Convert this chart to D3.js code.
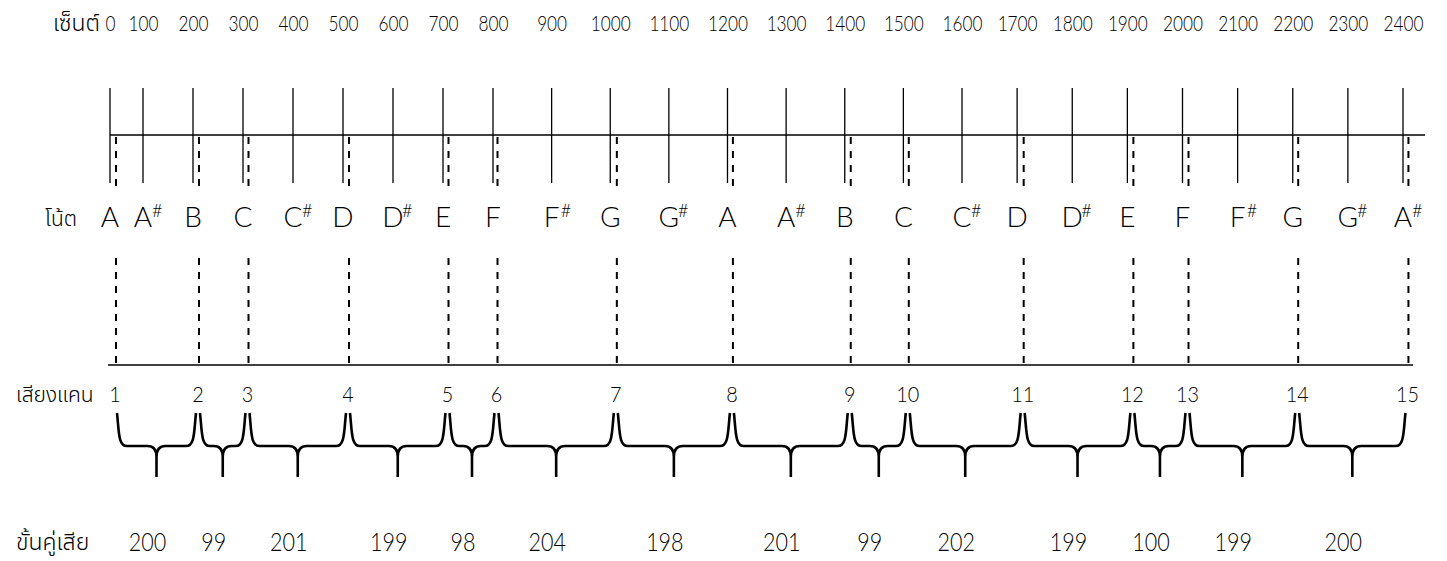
<!DOCTYPE html>
<html>
<head>
<meta charset="utf-8">
<script src="https://cdn.jsdelivr.net/npm/d3@7"></script>
<style>
  body { margin: 0; background: #fff; }
  svg { display: block; }
  text { fill: #000; }
  .num { font-family: Lato, "Open Sans", sans-serif; font-weight: 300; }
  .thai { font-family: "Noto Sans Thai", "Leelawadee UI", "Tahoma", "Noto Sans", sans-serif; font-weight: 300; }
  .note { font-family: Lato, "Open Sans", sans-serif; font-weight: 300; }
</style>
</head>
<body>
<svg id="chart" width="1447" height="561"></svg>
<script>
// equal-tempered scale, cents above the low A
const cents = [0, 100, 200, 300, 400, 500, 600, 700, 800, 900, 1000, 1100, 1200,
  1300, 1400, 1500, 1600, 1700, 1800, 1900, 2000, 2100, 2200, 2300, 2400];
const notes = ["A", "A#", "B", "C", "C#", "D", "D#", "E", "F", "F#", "G", "G#", "A",
  "A#", "B", "C", "C#", "D", "D#", "E", "F", "F#", "G", "G#", "A#"];

// khaen pipes and the steps between neighbours (cents)
const khaenNumbers = [1, 2, 3, 4, 5, 6, 7, 8, 9, 10, 11, 12, 13, 14, 15];
const intervals = [200, 99, 201, 199, 98, 204, 198, 201, 99, 202, 199, 100, 199, 200];

const rowLabels = ["เซ็นต์", "โน้ต", "เสียงแคน", "ขั้นคู่เสีย"];

const khaenCents = [0, ...d3.cumsum(intervals)];

const svg = d3.select("#chart");

// the drawn axis is not even, so the scale gets a few breakpoints
const x = d3.scaleLinear()
  .domain([0, 100, 800, 1600, 2400])
  .range([110, 143, 493, 962, 1403]);
const kx = c => x(c) + 6; // khaen marks sit just right of the note line

// narrow digits like the original typeface
const squeeze = (sel, perDigit) => sel
  .attr("textLength", function() { return this.textContent.length * perDigit; })
  .attr("lengthAdjust", "spacingAndGlyphs");

// row titles
svg.append("text").attr("class", "thai")
  .attr("x", 100).attr("y", 31).attr("text-anchor", "end")
  .style("font-size", "23px").text(rowLabels[0]);
svg.append("text").attr("class", "thai")
  .attr("x", 45).attr("y", 226)
  .style("font-size", "21px").text(rowLabels[1]);
svg.append("text").attr("class", "thai")
  .attr("x", 16).attr("y", 402)
  .style("font-size", "21px").text(rowLabels[2]);
svg.append("text").attr("class", "thai")
  .attr("x", 16).attr("y", 550)
  .style("font-size", "23px").text(rowLabels[3]);

// cents along the top
const centsAxis = svg.append("g")
  .attr("transform", "translate(0,31)")
  .call(d3.axisTop(x).tickValues(cents).tickSize(0).tickPadding(0).tickFormat(d3.format("d")));
centsAxis.select(".domain").remove();
centsAxis.selectAll("text")
  .attr("class", "num")
  .attr("dy", 0)
  .attr("fill", "#000")
  .style("font-size", "22px")
  .call(squeeze, 10);

// upper staff
svg.append("line")
  .attr("x1", x(0)).attr("x2", x(2400) + 22)
  .attr("y1", 135).attr("y2", 135)
  .attr("stroke", "#000").attr("stroke-width", 1.6);

svg.append("g")
  .selectAll("line")
  .data(cents)
  .join("line")
  .attr("x1", d => x(d)).attr("x2", d => x(d))
  .attr("y1", 88).attr("y2", 183)
  .attr("stroke", "#000").attr("stroke-width", 1.3);

svg.append("g")
  .selectAll("line")
  .data(khaenCents)
  .join("line")
  .attr("x1", d => kx(d)).attr("x2", d => kx(d))
  .attr("y1", 137).attr("y2", 188)
  .attr("stroke", "#000").attr("stroke-width", 2)
  .attr("stroke-dasharray", "7,7");

// note names
const noteG = svg.append("g")
  .selectAll("g")
  .data(notes.map((n, i) => ({n, c: cents[i]})))
  .join("g")
  .attr("transform", d => `translate(${x(d.c)},227)`);
noteG.append("text")
  .attr("class", "note")
  .attr("text-anchor", "middle")
  .style("font-size", "28px")
  .text(d => d.n[0]);
noteG.filter(d => d.n.length > 1).append("text")
  .attr("class", "note")
  .attr("x", 9).attr("y", -10)
  .style("font-size", "18px")
  .text("#");

// lower staff
svg.append("g")
  .selectAll("line")
  .data(khaenCents)
  .join("line")
  .attr("x1", d => kx(d)).attr("x2", d => kx(d))
  .attr("y1", 258).attr("y2", 365)
  .attr("stroke", "#000").attr("stroke-width", 2)
  .attr("stroke-dasharray", "7,7");

svg.append("line")
  .attr("x1", x(0) - 2).attr("x2", kx(2400) + 4)
  .attr("y1", 365).attr("y2", 365)
  .attr("stroke", "#000").attr("stroke-width", 1.6);

// pipe numbers
svg.append("g")
  .selectAll("text")
  .data(khaenNumbers)
  .join("text")
  .attr("class", "num")
  .attr("x", (d, i) => kx(khaenCents[i]) - 1)
  .attr("y", 402)
  .attr("text-anchor", "middle")
  .style("font-size", "22px")
  .text(d => d)
  .call(squeeze, 11.5);

// braces between neighbouring pipes
const yT = 413, yH = 446, yB = 477;
function brace(x0, x1) {
  const m = (x0 + x1) / 2;
  const r = Math.min(9, (x1 - x0) / 4);
  return `M${x0 - 1},${yT} C${x0 + 1},${yT + 18} ${x0},${yH} ${x0 + r},${yH}` +
    ` L${m - r},${yH} Q${m},${yH} ${m},${yH + r + 2} L${m},${yB}` +
    ` M${m},${yH + r + 2} Q${m},${yH} ${m + r},${yH}` +
    ` L${x1 - r},${yH} C${x1},${yH} ${x1 - 1},${yT + 18} ${x1 + 1},${yT}`;
}
const steps = intervals.map((v, i) => ({v, a: kx(khaenCents[i]) + 2, b: kx(khaenCents[i + 1]) - 4}));

svg.append("g")
  .selectAll("path")
  .data(steps)
  .join("path")
  .attr("d", d => brace(d.a, d.b))
  .attr("fill", "none")
  .attr("stroke", "#000")
  .attr("stroke-width", 2.6);

svg.append("g")
  .selectAll("text")
  .data(steps)
  .join("text")
  .attr("class", "num")
  .attr("x", d => (d.a + d.b) / 2 - 9)
  .attr("y", 551)
  .attr("text-anchor", "middle")
  .style("font-size", "25px")
  .text(d => d.v)
  .call(squeeze, 12.5);
</script>
</body>
</html>
